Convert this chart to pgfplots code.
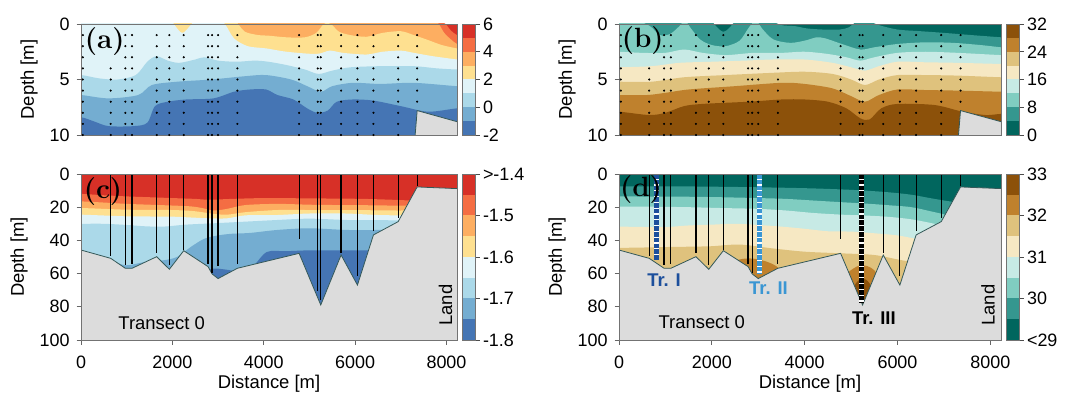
\documentclass[border=0pt]{standalone}
\usepackage{fontspec}
\setsansfont{Liberation Sans}
\renewcommand{\familydefault}{\sfdefault}
\usepackage{pgfplots}
\pgfplotsset{compat=1.18}
\definecolor{rb1}{HTML}{4575B4}
\definecolor{rb2}{HTML}{74ADD1}
\definecolor{rb3}{HTML}{ABD9E9}
\definecolor{rb4}{HTML}{E0F3F8}
\definecolor{rb5}{HTML}{FEE090}
\definecolor{rb6}{HTML}{FDAE61}
\definecolor{rb7}{HTML}{F46D43}
\definecolor{rb8}{HTML}{D73027}
\definecolor{bg1}{HTML}{01665E}
\definecolor{bg2}{HTML}{35978F}
\definecolor{bg3}{HTML}{80CDC1}
\definecolor{bg4}{HTML}{C7EAE5}
\definecolor{bg5}{HTML}{F6E8C3}
\definecolor{bg6}{HTML}{DFC27D}
\definecolor{bg7}{HTML}{BF812D}
\definecolor{bg8}{HTML}{8C510A}
\definecolor{landc}{HTML}{DCDCDC}
\definecolor{coastc}{HTML}{345858}
\definecolor{trI}{HTML}{1C4F9C}
\definecolor{trII}{HTML}{3A96D3}

\pgfplotstableread{
x d
0 45.8
650 50.8
971 56.8
1117 56.8
1657 49.8
1934 57.4
2248 46.2
2781 55.8
2869 60.2
3000 63
3423 56.8
4774 47.8
5248 78.9
5693 48.8
6051 66.9
6401 36.7
6942 28.7
7358 7.8
8230 8.8
}\bathy
\pgfplotstableread{
x d
-400 45.8
0 45.8
650 50.8
971 56.8
1117 56.8
1657 49.8
1934 57.4
2248 46.2
2781 55.8
2869 60.2
3000 63
3423 56.8
4774 47.8
5248 78.9
5693 48.8
6051 66.9
6401 36.7
6942 28.7
7358 7.8
8230 8.8
8600 8.8
8600 150
-400 150
}\landpoly

\pgfplotsset{
  main/.style={scale only axis, width=376bp, xmin=0, xmax=8230, y dir=reverse,
    axis on top, tick align=outside, major tick length=4.5bp,
    axis line style={draw=black!55, line width=0.7bp},
    tick style={black!60, line width=0.7bp},
    tick label style={font=\fontsize{18}{20}\selectfont},
    label style={font=\fontsize{18.5}{21}\selectfont},
    xticklabel shift=8bp, yticklabel shift=3.5bp, ylabel shift=5bp,
    /pgf/number format/assume math mode=true, /pgf/number format/1000 sep={},
    scaled x ticks=false, xtick pos=left, ytick pos=left, unbounded coords=jump,
    anchor=south west},
  cbar/.style={scale only axis, width=13bp, xmin=0, xmax=1, xtick=\empty,
    ytick pos=right, yticklabel pos=right, tick align=outside, major tick length=4.5bp,
    axis on top, axis line style={draw=black!55, line width=0.7bp},
    tick style={black!70, line width=0.7bp},
    tick label style={font=\fontsize{18}{20}\selectfont}, anchor=south west},
  band/.style={draw=none, fill=#1, smooth, tension=0.5, forget plot},
  cb/.style={draw=none, fill=#1, forget plot},
  landfill/.style={draw=none, fill=landc, forget plot},
  coast/.style={draw=coastc, line width=0.8bp, forget plot},
  dots/.style={only marks, mark=*, mark size=0.85bp, black, forget plot},
}
\tikzset{
  plab/.style={font=\rmfamily\bfseries\fontsize{28}{28}\selectfont},
  txt/.style={font=\fontsize{18.5}{21}\selectfont},
  btxt/.style={font=\bfseries\fontsize{18.5}{21}\selectfont},
}

\begin{document}
\begin{tikzpicture}
%================ (a) =================
\begin{axis}[main, at={(81bp,264bp)}, height=111bp, ymin=0, ymax=10, ytick={0,5,10}, xtick=\empty,
  ylabel={Depth [m]}, axis background/.style={fill=rb8}]
\addplot[band=rb7] coordinates {(7300,-3) (7650,-1.2) (7850,-0.35) (7980,0) (8100,0.6) (8230,1.0) (8400,1.2) (8600,1.3) (8600,20) (-400,20) (-400,-3)} -- cycle;
\addplot[band=rb6] coordinates {(7200,-3) (7500,-1.5) (7700,-0.5) (7833,0) (7950,0.8) (8100,1.4) (8230,1.8) (8400,2.0) (8600,2.1) (8600,20) (-400,20) (-400,-3)} -- cycle;
\addplot[band=rb5] coordinates {(3000,-3) (3200,-1.2) (3441,0) (3588,0.7) (3880,1.0) (4100,1.05) (4500,1.2) (4900,1.2) (5150,0.8) (5300,0.05) (5400,-0.1) (5500,0.1) (5650,0.7) (5900,1.0) (6250,1.15) (6600,0.8) (7000,0.65) (7285,1.0) (7600,1.45) (7900,1.9) (8230,2.2) (8400,2.3) (8600,2.4) (8600,20) (-400,20) (-400,-3)} -- cycle;
\addplot[band=rb4] coordinates {(1500,-3) (1800,-1.5) (2050,0.1) (2220,0.8) (2400,0.1) (2650,-1.2) (2900,-1.0) (3150,0) (3350,1.3) (3650,2.0) (4055,2.2) (4500,2.5) (5150,2.7) (5443,2.4) (5736,2.6) (6250,2.75) (6600,2.5) (7000,2.4) (7285,2.6) (7700,2.9) (8230,3.2) (8400,3.3) (8600,3.3) (8600,20) (-400,20) (-400,-3)} -- cycle;
\addplot[band=rb3] coordinates {(-400,4.6) (0,4.6) (400,4.9) (800,5.0) (1200,4.6) (1450,3.4) (1650,2.9) (1900,3.3) (2150,3.5) (2500,3.2) (2700,3.0) (3000,3.3) (3400,3.4) (3800,3.3) (4100,3.4) (4500,3.7) (4900,4.1) (5200,4.5) (5500,4.2) (5900,3.9) (6550,3.8) (7285,3.8) (7800,4.0) (8230,4.1) (8600,4.1) (8600,20) (-400,20)} -- cycle;
\addplot[band=rb2] coordinates {(-400,6.4) (0,6.4) (600,6.7) (1250,6.4) (1550,5.5) (2100,5.2) (2850,5.0) (3600,4.7) (4050,4.6) (4600,5.0) (4950,5.6) (5250,6.1) (5500,5.6) (5950,5.3) (6550,5.4) (7285,5.3) (8230,5.6) (8600,5.6) (8600,20) (-400,20)} -- cycle;
\addplot[band=rb1] coordinates {(-400,8.4) (0,8.4) (300,8.8) (600,9.2) (1150,9.2) (1450,8.9) (1620,7.4) (1900,7.0) (2300,6.8) (2900,6.7) (3350,6.1) (3700,5.9) (4050,5.9) (4300,6.4) (4650,6.8) (4950,7.6) (5170,8.0) (5400,7.8) (5600,7.0) (5950,6.8) (6400,6.9) (7000,7.4) (7600,7.9) (8230,7.6) (8600,7.6) (8600,20) (-400,20)} -- cycle;
\addplot[landfill] table[x=x,y=d] {\landpoly} -- cycle;
\addplot[coast] table[x=x,y=d] {\bathy};
\addplot[dots] coordinates {
(40,1)(971,1)(1117,1)(1657,1)(1934,1)(2248,1)(2781,1)(2869,1)(3000,1)(3423,1)(4774,1)(5182,1)(5248,1)(5693,1)(6051,1)(6401,1)(6942,1)(7358,1)
(40,2)(971,2)(1117,2)(1657,2)(1934,2)(2248,2)(2781,2)(2869,2)(3000,2)(3423,2)(4774,2)(5182,2)(5248,2)(5693,2)(6051,2)(6401,2)(6942,2)(7358,2)
(40,3)(971,3)(1117,3)(1657,3)(1934,3)(2248,3)(2781,3)(2869,3)(3000,3)(3423,3)(4774,3)(5182,3)(5248,3)(5693,3)(6051,3)(6401,3)(6942,3)(7358,3)
(40,4)(650,4)(971,4)(1117,4)(1657,4)(1934,4)(2248,4)(2781,4)(2869,4)(3000,4)(3423,4)(4774,4)(5182,4)(5248,4)(5693,4)(6051,4)(6401,4)(6942,4)(7358,4)
(40,5)(650,5)(971,5)(1117,5)(1657,5)(1934,5)(2248,5)(2781,5)(2869,5)(3000,5)(3423,5)(4774,5)(5182,5)(5248,5)(5693,5)(6051,5)(6401,5)(6942,5)(7358,5)
(40,6)(650,6)(971,6)(1117,6)(1657,6)(1934,6)(2248,6)(2781,6)(2869,6)(3000,6)(3423,6)(4774,6)(5182,6)(5248,6)(5693,6)(6051,6)(6401,6)(6942,6)(7358,6)
(40,7)(650,7)(971,7)(1117,7)(1657,7)(1934,7)(2248,7)(2781,7)(2869,7)(3000,7)(3423,7)(4774,7)(5182,7)(5248,7)(5693,7)(6051,7)(6401,7)(6942,7)(7358,7)
(40,8)(650,8)(971,8)(1117,8)(1657,8)(1934,8)(2248,8)(2781,8)(2869,8)(3000,8)(3423,8)(4774,8)(5182,8)(5248,8)(5693,8)(6051,8)(6401,8)(6942,8)
(40,9)(650,9)(971,9)(1117,9)(1657,9)(1934,9)(2248,9)(2781,9)(2869,9)(3000,9)(3423,9)(4774,9)(5182,9)(5248,9)(5693,9)(6051,9)(6401,9)(6942,9)
(40,10)(650,10)(971,10)(1117,10)(1657,10)(1934,10)(2248,10)(2781,10)(2869,10)(3000,10)(3423,10)(4774,10)(5182,10)(5248,10)(5693,10)(6051,10)(6401,10)(6942,10)
};
\node[plab] at (axis cs:519,1.6) {(a)};
\end{axis}
\begin{axis}[cbar, at={(462bp,264bp)}, height=111bp, ymin=-2, ymax=6, ytick={-2,0,2,4,6}, yticklabels={-2,0,2,4,6}]
\addplot[cb=rb1] coordinates {(0,-2)(1,-2)(1,-1)(0,-1)} -- cycle;
\addplot[cb=rb2] coordinates {(0,-1)(1,-1)(1,0)(0,0)} -- cycle;
\addplot[cb=rb3] coordinates {(0,0)(1,0)(1,1)(0,1)} -- cycle;
\addplot[cb=rb4] coordinates {(0,1)(1,1)(1,2)(0,2)} -- cycle;
\addplot[cb=rb5] coordinates {(0,2)(1,2)(1,3)(0,3)} -- cycle;
\addplot[cb=rb6] coordinates {(0,3)(1,3)(1,4)(0,4)} -- cycle;
\addplot[cb=rb7] coordinates {(0,4)(1,4)(1,5)(0,5)} -- cycle;
\addplot[cb=rb8] coordinates {(0,5)(1,5)(1,6)(0,6)} -- cycle;
\end{axis}
%================ (b) =================
\begin{axis}[main, at={(619bp,264bp)}, width=382bp, height=111bp, ymin=0, ymax=10, ytick={0,5,10}, xtick=\empty,
  ylabel={Depth [m]}, axis background/.style={fill=bg1}]
\addplot[band=bg2] coordinates {(1500,-3) (1800,-1.5) (2050,0) (2250,0.7) (2450,0) (2700,-1.5) (3000,-1.2) (3250,-0.4) (3500,0.1) (3800,0.2) (4050,0.4) (4400,0.5) (4750,0.5) (4950,0.3) (5150,-0.3) (5350,-0.3) (5600,0.1) (6000,0.5) (6500,0.65) (7000,0.8) (7600,1.0) (8230,1.2) (8400,1.25) (8600,1.3) (8600,20) (-400,20) (-400,-3)} -- cycle;
\addplot[band=bg3] coordinates {(-400,-1) (0,-0.8) (350,-0.4) (670,0.2) (880,1.0) (1100,0.9) (1300,0.2) (1420,-0.3) (1550,0.4) (1750,1.4) (2000,1.9) (2300,2.0) (2600,1.5) (2800,0.3) (2950,-0.3) (3100,0.5) (3330,1.4) (3700,1.7) (4050,1.45) (4250,1.2) (4450,1.3) (4800,1.8) (5200,2.3) (5500,2.1) (6000,1.8) (6600,1.65) (7200,1.7) (7800,1.9) (8230,2.1) (8600,2.2) (8600,20) (-400,20)} -- cycle;
\addplot[band=bg4] coordinates {(-400,2.5) (0,2.5) (500,2.6) (1000,2.6) (1400,2.3) (1800,2.6) (2300,2.8) (2900,2.6) (3500,2.6) (4000,2.5) (4500,2.7) (4900,3.0) (5200,3.3) (5500,3.0) (6000,2.6) (6600,2.5) (7300,2.6) (8230,2.8) (8600,2.8) (8600,20) (-400,20)} -- cycle;
\addplot[band=bg5] coordinates {(-400,3.9) (0,3.9) (700,3.8) (1300,3.5) (2000,3.4) (2700,3.3) (3300,3.2) (4000,3.2) (4600,3.5) (5000,3.9) (5300,4.2) (5600,3.8) (6000,3.4) (6600,3.45) (7300,3.5) (8230,3.6) (8600,3.6) (8600,20) (-400,20)} -- cycle;
\addplot[band=bg6] coordinates {(-400,5.2) (0,5.2) (700,5.2) (1400,4.8) (2300,4.6) (3300,4.4) (4000,4.3) (4600,4.5) (5000,5.0) (5300,5.5) (5600,5.0) (6000,4.6) (6600,4.6) (7300,4.65) (8230,4.8) (8600,4.8) (8600,20) (-400,20)} -- cycle;
\addplot[band=bg7] coordinates {(-400,6.4) (0,6.4) (600,6.4) (1000,6.2) (1500,5.9) (2500,5.6) (3500,5.3) (4000,5.4) (4600,5.8) (5000,6.5) (5300,7.0) (5600,6.4) (6000,5.9) (6600,5.95) (7300,6.0) (8230,6.1) (8600,6.1) (8600,20) (-400,20)} -- cycle;
\addplot[band=bg8] coordinates {(-400,7.9) (0,7.9) (650,8.2) (1000,8.0) (1400,7.4) (1800,7.2) (2800,7.0) (3500,6.8) (4000,6.8) (4500,7.0) (4900,7.6) (5200,8.5) (5400,8.6) (5650,7.6) (6000,7.2) (6800,7.3) (7400,7.9) (7900,8.2) (8230,8.1) (8600,8.1) (8600,20) (-400,20)} -- cycle;
\addplot[landfill] table[x=x,y=d] {\landpoly} -- cycle;
\addplot[coast] table[x=x,y=d] {\bathy};
\addplot[dots] coordinates {
(40,1)(971,1)(1117,1)(1657,1)(1934,1)(2248,1)(2781,1)(2869,1)(3000,1)(3423,1)(4774,1)(5182,1)(5248,1)(5693,1)(6051,1)(6401,1)(6942,1)(7358,1)
(40,2)(971,2)(1117,2)(1657,2)(1934,2)(2248,2)(2781,2)(2869,2)(3000,2)(3423,2)(4774,2)(5182,2)(5248,2)(5693,2)(6051,2)(6401,2)(6942,2)(7358,2)
(40,3)(971,3)(1117,3)(1657,3)(1934,3)(2248,3)(2781,3)(2869,3)(3000,3)(3423,3)(4774,3)(5182,3)(5248,3)(5693,3)(6051,3)(6401,3)(6942,3)(7358,3)
(40,4)(650,4)(971,4)(1117,4)(1657,4)(1934,4)(2248,4)(2781,4)(2869,4)(3000,4)(3423,4)(4774,4)(5182,4)(5248,4)(5693,4)(6051,4)(6401,4)(6942,4)(7358,4)
(40,5)(650,5)(971,5)(1117,5)(1657,5)(1934,5)(2248,5)(2781,5)(2869,5)(3000,5)(3423,5)(4774,5)(5182,5)(5248,5)(5693,5)(6051,5)(6401,5)(6942,5)(7358,5)
(40,6)(650,6)(971,6)(1117,6)(1657,6)(1934,6)(2248,6)(2781,6)(2869,6)(3000,6)(3423,6)(4774,6)(5182,6)(5248,6)(5693,6)(6051,6)(6401,6)(6942,6)(7358,6)
(40,7)(650,7)(971,7)(1117,7)(1657,7)(1934,7)(2248,7)(2781,7)(2869,7)(3000,7)(3423,7)(4774,7)(5182,7)(5248,7)(5693,7)(6051,7)(6401,7)(6942,7)(7358,7)
(40,8)(650,8)(971,8)(1117,8)(1657,8)(1934,8)(2248,8)(2781,8)(2869,8)(3000,8)(3423,8)(4774,8)(5182,8)(5248,8)(5693,8)(6051,8)(6401,8)(6942,8)
(40,9)(650,9)(971,9)(1117,9)(1657,9)(1934,9)(2248,9)(2781,9)(2869,9)(3000,9)(3423,9)(4774,9)(5182,9)(5248,9)(5693,9)(6051,9)(6401,9)(6942,9)
(40,10)(650,10)(971,10)(1117,10)(1657,10)(1934,10)(2248,10)(2781,10)(2869,10)(3000,10)(3423,10)(4774,10)(5182,10)(5248,10)(5693,10)(6051,10)(6401,10)(6942,10)
};
\node[plab] at (axis cs:511,1.5) {(b)};
\end{axis}
\begin{axis}[cbar, at={(1006bp,264bp)}, height=111bp, ymin=0, ymax=32, ytick={0,8,16,24,32}, yticklabels={0,8,16,24,32}]
\addplot[cb=bg1] coordinates {(0,0)(1,0)(1,4)(0,4)} -- cycle;
\addplot[cb=bg2] coordinates {(0,4)(1,4)(1,8)(0,8)} -- cycle;
\addplot[cb=bg3] coordinates {(0,8)(1,8)(1,12)(0,12)} -- cycle;
\addplot[cb=bg4] coordinates {(0,12)(1,12)(1,16)(0,16)} -- cycle;
\addplot[cb=bg5] coordinates {(0,16)(1,16)(1,20)(0,20)} -- cycle;
\addplot[cb=bg6] coordinates {(0,20)(1,20)(1,24)(0,24)} -- cycle;
\addplot[cb=bg7] coordinates {(0,24)(1,24)(1,28)(0,28)} -- cycle;
\addplot[cb=bg8] coordinates {(0,28)(1,28)(1,32)(0,32)} -- cycle;
\end{axis}
%================ (c) =================
\begin{axis}[main, at={(81bp,59bp)}, height=166bp, ymin=0, ymax=100, ytick={0,20,40,60,80,100},
  xtick={0,2000,4000,6000,8000}, ylabel={Depth [m]}, xlabel={Distance [m]}, axis background/.style={fill=rb8}]
\addplot[band=rb7] coordinates {(-400,12) (0,12) (500,12.8) (1000,13.5) (1500,14) (2000,14.5) (2500,15) (2800,15.5) (3300,15) (3800,14.6) (4300,14.5) (5000,14.7) (5600,14.8) (6200,15) (6800,15.5) (7300,16) (8000,16) (8600,16) (8600,150) (-400,150)} -- cycle;
\addplot[band=rb6] coordinates {(-400,16.5) (0,16.5) (500,17.2) (1000,18) (1500,18.5) (2000,19) (2400,19.5) (2650,20.5) (2900,22) (3200,21) (3600,18.7) (4300,18) (5000,18.5) (5600,18.7) (6200,18.8) (6800,19) (7500,19) (8600,19) (8600,150) (-400,150)} -- cycle;
\addplot[band=rb5] coordinates {(-400,20.5) (0,20.5) (500,21) (1000,21.5) (1500,21.6) (2000,21.7) (2400,22.2) (2650,23) (2900,24) (3200,24.5) (3600,23) (4300,21.7) (5000,21.7) (5600,21.7) (6200,21.8) (7000,22) (8600,22) (8600,150) (-400,150)} -- cycle;
\addplot[band=rb4] coordinates {(-400,24.5) (0,24.5) (500,25) (1000,25.5) (1500,25.6) (2000,25.7) (2400,26.2) (2800,26.7) (3200,26.7) (3600,24.9) (4300,24.7) (5000,23.8) (5800,23.8) (6500,24.7) (7300,25) (8600,25) (8600,150) (-400,150)} -- cycle;
\addplot[band=rb3] coordinates {(-400,30) (0,30) (500,30) (1000,30.7) (1400,31.5) (1800,31.7) (2300,30.5) (2900,29.7) (3600,28.7) (4300,27.7) (5000,26.9) (5800,27.7) (6500,27.8) (7300,28) (8600,28) (8600,150) (-400,150)} -- cycle;
\addplot[band=rb2] coordinates {(-400,52) (0,52) (400,52.5) (700,53) (1000,55) (1400,53) (1800,52) (2100,50) (2400,44) (2700,39) (3000,37) (3300,36) (3700,35.5) (4300,33.7) (5000,32.7) (5800,33.7) (6500,33.7) (7300,33) (8600,33) (8600,150) (-400,150)} -- cycle;
\addplot[band=rb1] coordinates {(-400,70) (0,70) (500,67) (1000,64) (1500,64) (2000,64) (2400,62) (2650,59) (2900,57) (3150,57.5) (3450,58.5) (3750,56) (4066,47) (4500,46.5) (5000,46) (5800,46) (6500,46) (7300,46) (8600,46) (8600,150) (-400,150)} -- cycle;
\addplot[landfill] table[x=x,y=d] {\landpoly} -- cycle;
\addplot[coast] table[x=x,y=d] {\bathy};
\addplot[black, line width=1.2bp, forget plot] coordinates {
(650,0)(650,49.4)(650,nan) (971,0)(971,55)(971,nan) (1117,0)(1117,54.4)(1117,nan)
(1657,0)(1657,47.4)(1657,nan) (1934,0)(1934,55)(1934,nan) (2248,0)(2248,45.8)(2248,nan)
(2781,0)(2781,54.4)(2781,nan) (2869,0)(2869,59.4)(2869,nan) (3000,0)(3000,55.4)(3000,nan)
(3423,0)(3423,54.4)(3423,nan) (4774,0)(4774,39.4)(4774,nan) (5182,0)(5182,70.5)(5182,nan)
(5248,0)(5248,76)(5248,nan) (5693,0)(5693,47.4)(5693,nan) (6051,0)(6051,61.4)(6051,nan)
(6401,0)(6401,34.3)(6401,nan) (6942,0)(6942,26.7)(6942,nan) (7358,0)(7358,7.2)
};
\node[plab] at (axis cs:482,10.6) {(c)};
\node[txt] at (axis cs:1766,89.6) {Transect 0};
\node[txt, rotate=90] at (axis cs:7979,79) {Land};
\end{axis}
\begin{axis}[cbar, at={(462bp,59bp)}, height=166bp, ymin=-1.8, ymax=-1.4, ytick={-1.8,-1.7,-1.6,-1.5,-1.4}, yticklabels={-1.8,-1.7,-1.6,-1.5,>-1.4}]
\addplot[cb=rb1] coordinates {(0,-1.8)(1,-1.8)(1,-1.75)(0,-1.75)} -- cycle;
\addplot[cb=rb2] coordinates {(0,-1.75)(1,-1.75)(1,-1.7)(0,-1.7)} -- cycle;
\addplot[cb=rb3] coordinates {(0,-1.7)(1,-1.7)(1,-1.65)(0,-1.65)} -- cycle;
\addplot[cb=rb4] coordinates {(0,-1.65)(1,-1.65)(1,-1.6)(0,-1.6)} -- cycle;
\addplot[cb=rb5] coordinates {(0,-1.6)(1,-1.6)(1,-1.55)(0,-1.55)} -- cycle;
\addplot[cb=rb6] coordinates {(0,-1.55)(1,-1.55)(1,-1.5)(0,-1.5)} -- cycle;
\addplot[cb=rb7] coordinates {(0,-1.5)(1,-1.5)(1,-1.45)(0,-1.45)} -- cycle;
\addplot[cb=rb8] coordinates {(0,-1.45)(1,-1.45)(1,-1.4)(0,-1.4)} -- cycle;
\end{axis}
%================ (d) =================
\begin{axis}[main, at={(619bp,59bp)}, width=382bp, height=166bp, ymin=0, ymax=100, ytick={0,20,40,60,80,100},
  xtick={0,2000,4000,6000,8000}, ylabel={Depth [m]}, xlabel={Distance [m]}, axis background/.style={fill=bg1}]
\addplot[band=bg2] coordinates {(-400,7.5) (0,7.5) (700,7.5) (1500,7.5) (2200,7.7) (3000,8) (3600,8.3) (4200,8.7) (4800,9.3) (5300,10) (5800,11) (6300,12.5) (6800,15) (7300,17) (8000,17) (8600,17) (8600,150) (-400,150)} -- cycle;
\addplot[band=bg3] coordinates {(-400,13.5) (0,13.5) (700,13.6) (1500,13.7) (2200,14) (3000,14.5) (3600,15) (4200,16) (4800,17) (5300,17.8) (5800,18.8) (6300,20) (6800,23) (7300,26) (8000,28) (8600,28) (8600,150) (-400,150)} -- cycle;
\addplot[band=bg4] coordinates {(-400,19.7) (0,19.7) (700,19.7) (1500,20) (2200,20.5) (3000,21) (3600,22) (4200,23.5) (4800,24.5) (5300,25) (5800,25.8) (6300,27.3) (6800,30) (7300,33) (8000,35) (8600,35) (8600,150) (-400,150)} -- cycle;
\addplot[band=bg5] coordinates {(-400,31.7) (0,31.7) (500,31.9) (1000,32) (1500,31) (2000,30.5) (2500,30) (3000,30.7) (3500,31.7) (4000,33) (4500,34.5) (5000,34.7) (5500,35.7) (6000,37) (6500,39.5) (7000,41) (7800,42) (8600,42) (8600,150) (-400,150)} -- cycle;
\addplot[band=bg6] coordinates {(-400,44.5) (0,44.5) (500,44.3) (1000,44) (1500,43.8) (2000,43.5) (2600,42.5) (3300,44.8) (4000,46.8) (4800,47.8) (5500,48.8) (6100,52) (6600,54) (7400,56) (8600,56) (8600,150) (-400,150)} -- cycle;
\addplot[band=bg7] coordinates {(-400,80) (0,80) (700,80) (1400,80) (1900,72) (2300,56) (2600,51.5) (2900,51) (3200,53) (3450,57) (3800,70) (4200,75) (4600,68) (4900,60) (5200,55) (5500,58) (5800,72) (6300,80) (7000,80) (8600,80) (8600,150) (-400,150)} -- cycle;
\addplot[band=bg8] coordinates {(-400,95) (1000,95) (2000,95) (3000,95) (4000,95) (4500,92) (4850,78) (5100,66) (5250,63) (5400,66) (5650,80) (6000,92) (6500,95) (8600,95) (8600,150) (-400,150)} -- cycle;
\addplot[landfill] table[x=x,y=d] {\landpoly} -- cycle;
\addplot[coast] table[x=x,y=d] {\bathy};
\addplot[black, line width=1.2bp, forget plot] coordinates {
(650,0)(650,49.4)(650,nan) (971,0)(971,55)(971,nan) (1117,0)(1117,54.4)(1117,nan)
(1657,0)(1657,47.4)(1657,nan) (1934,0)(1934,55)(1934,nan) (2248,0)(2248,45.8)(2248,nan)
(2781,0)(2781,54.4)(2781,nan) (2869,0)(2869,59.4)(2869,nan) (3000,0)(3000,55.4)(3000,nan)
(3423,0)(3423,54.4)(3423,nan) (4774,0)(4774,39.4)(4774,nan) (5182,0)(5182,70.5)(5182,nan)
(5248,0)(5248,76)(5248,nan) (5693,0)(5693,47.4)(5693,nan) (6051,0)(6051,61.4)(6051,nan)
(6401,0)(6401,34.3)(6401,nan) (6942,0)(6942,26.7)(6942,nan) (7358,0)(7358,7.2)
};
\addplot[white, line width=4.4bp, forget plot] coordinates {(810,0)(810,52)};
\addplot[trI, line width=4.4bp, dash pattern=on 4.5bp off 1.3bp, forget plot] coordinates {(810,0)(810,52)};
\addplot[white, line width=4.4bp, forget plot] coordinates {(3030,0)(3030,60)};
\addplot[trII, line width=4.4bp, dash pattern=on 4.5bp off 1.3bp, forget plot] coordinates {(3030,0)(3030,60)};
\addplot[white, line width=4.4bp, forget plot] coordinates {(5225,0)(5225,77)};
\addplot[black, line width=4.4bp, dash pattern=on 4.5bp off 1.3bp, forget plot] coordinates {(5225,0)(5225,77)};
\node[plab] at (axis cs:474,9.6) {(d)};
\node[txt] at (axis cs:1783,89) {Transect 0};
\node[txt, rotate=90] at (axis cs:7948,79) {Land};
\node[btxt, text=trI] at (axis cs:970,64) {Tr. I};
\node[btxt, text=trII] at (axis cs:3220,69) {Tr. II};
\node[btxt] at (axis cs:5491,87) {Tr. III};
\end{axis}
\begin{axis}[cbar, at={(1006bp,59bp)}, height=166bp, ymin=29, ymax=33, ytick={29,30,31,32,33}, yticklabels={<29,30,31,32,33}]
\addplot[cb=bg1] coordinates {(0,29)(1,29)(1,29.5)(0,29.5)} -- cycle;
\addplot[cb=bg2] coordinates {(0,29.5)(1,29.5)(1,30)(0,30)} -- cycle;
\addplot[cb=bg3] coordinates {(0,30)(1,30)(1,30.5)(0,30.5)} -- cycle;
\addplot[cb=bg4] coordinates {(0,30.5)(1,30.5)(1,31)(0,31)} -- cycle;
\addplot[cb=bg5] coordinates {(0,31)(1,31)(1,31.5)(0,31.5)} -- cycle;
\addplot[cb=bg6] coordinates {(0,31.5)(1,31.5)(1,32)(0,32)} -- cycle;
\addplot[cb=bg7] coordinates {(0,32)(1,32)(1,32.5)(0,32.5)} -- cycle;
\addplot[cb=bg8] coordinates {(0,32.5)(1,32.5)(1,33)(0,33)} -- cycle;
\end{axis}
\pgfresetboundingbox
\path[use as bounding box] (0,0) rectangle (1073bp,399bp);
\end{tikzpicture}
\end{document}
